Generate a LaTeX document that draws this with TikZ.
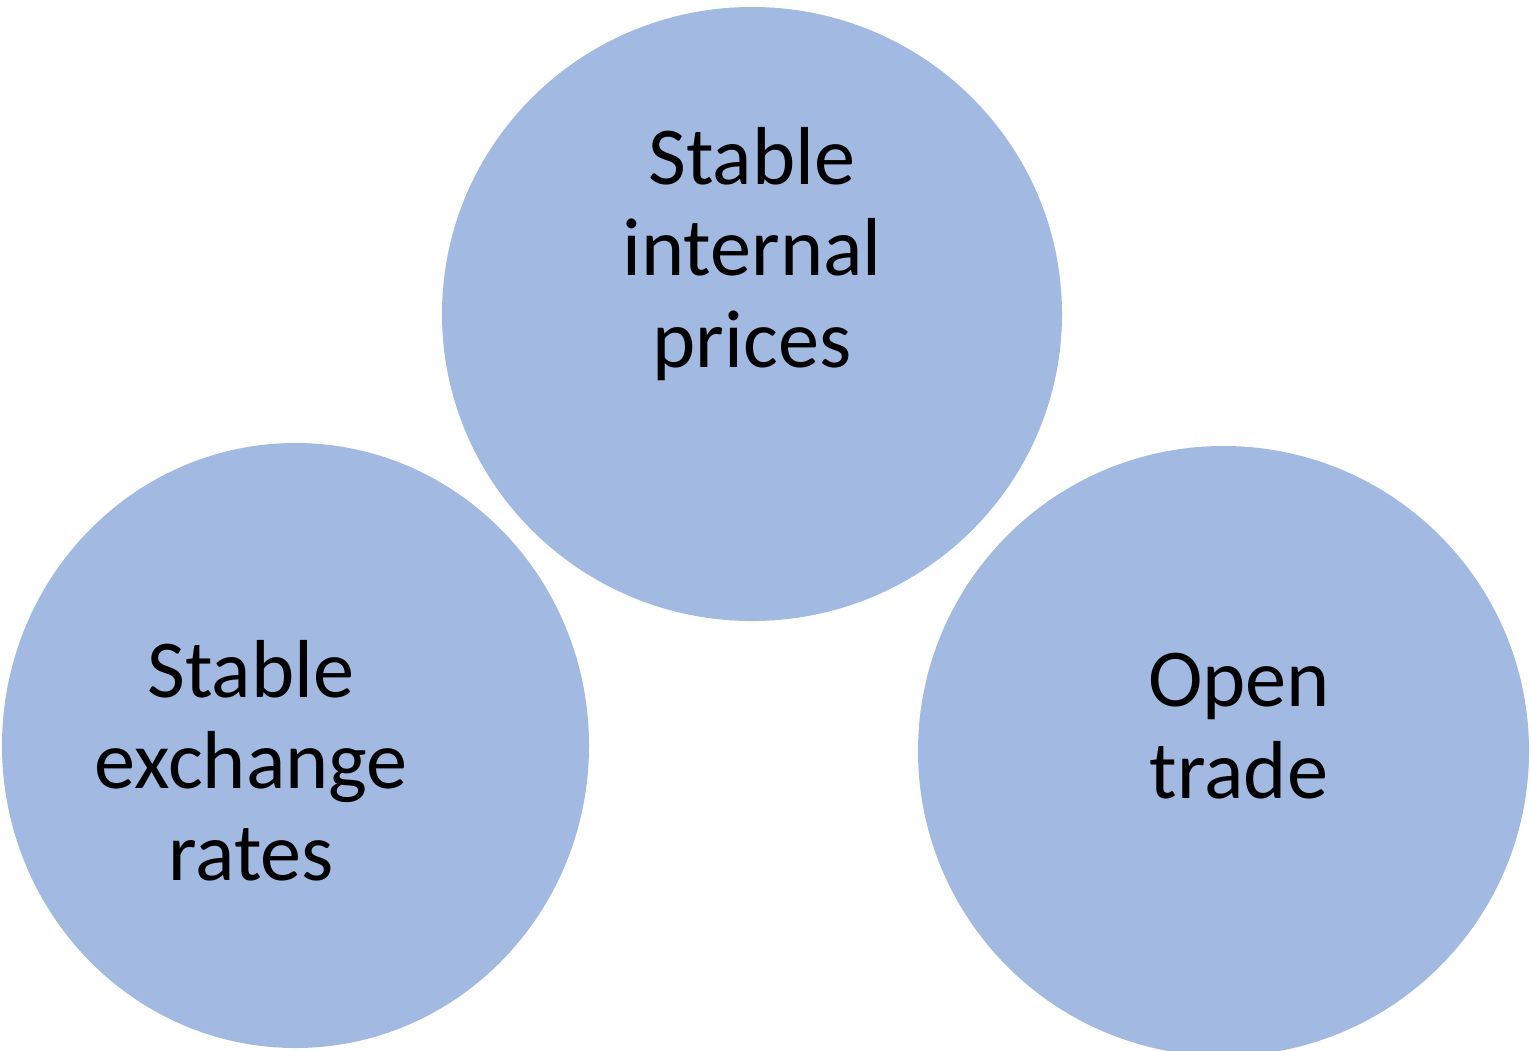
\documentclass[tikz,border=0pt]{standalone}
\usepackage{fontspec}
\setmainfont{Carlito}
\usepackage{tikz}
\usetikzlibrary{positioning}
\usetikzlibrary{shapes.geometric}
\definecolor{vennblue}{HTML}{A2B9E1}
\tikzset{%
  venn/.style  = {ellipse, fill = vennblue, draw = none, inner sep = 0pt}, % Circle
  label/.style = {align = center, inner sep = 0pt, anchor = base,
    font = \fontsize{23.4}{25.9}\selectfont}  % Text in circle, base = last line
}

\begin{document}
\begin{tikzpicture}
  \useasboundingbox (0,0) rectangle (15.31,10.5);

  \draw node at (7.52, 7.36) [venn, minimum width=6.20cm, minimum height=6.14cm] (prices) {};
  \draw node at (2.955, 3.045) [venn, minimum width=5.87cm, minimum height=6.05cm] (rates) {};
  \draw node at (12.235, 2.99) [venn, minimum width=6.11cm, minimum height=6.10cm] (trade) {};

  \draw node at (7.52, 6.83) [label] (pricestext) {Stable\\internal\\prices};
  \draw node at (2.51, 1.70) [label] (ratestext) {Stable\\exchange\\rates};
  \draw node at (12.39, 2.52) [label] (tradetext) {Open\\trade};

\end{tikzpicture}
\end{document}
